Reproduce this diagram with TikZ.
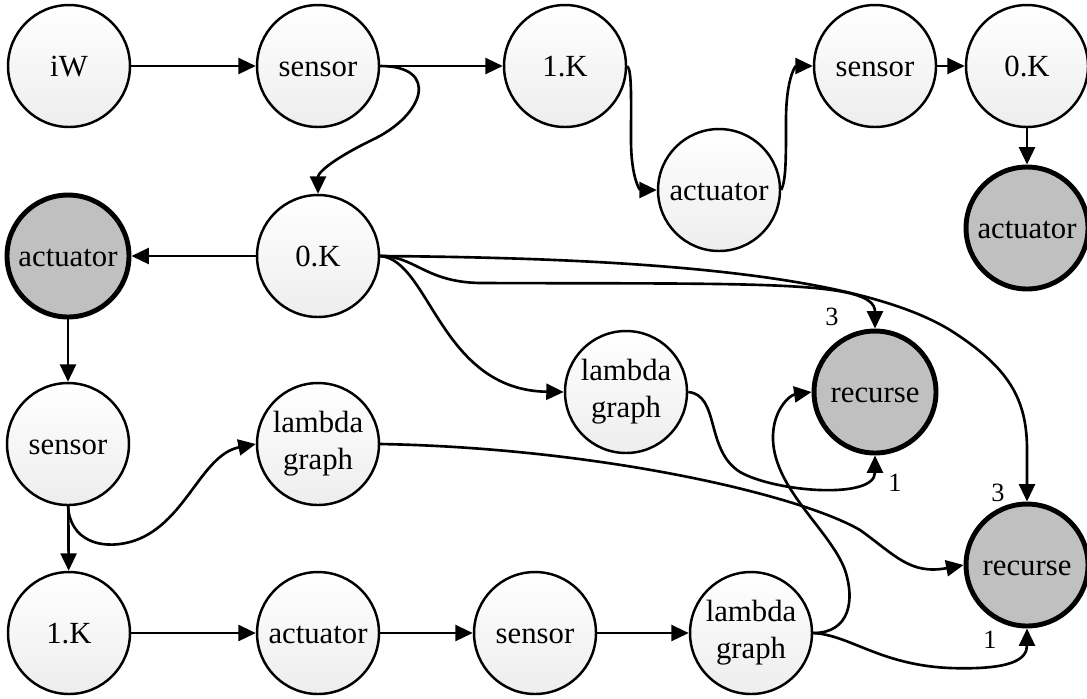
\documentclass[tikz,border=0pt]{standalone}
\usepackage{fontspec}
\setmainfont{Liberation Serif}
\usetikzlibrary{arrows.meta}
\definecolor{termgray}{RGB}{192,192,192}
\begin{document}
\begin{tikzpicture}[x=0.02cm,y=-0.02cm,
  state/.style={circle,minimum size=2.44cm,inner sep=0pt,draw=black,line width=1.4pt,
    top color=white,bottom color=gray!14,
    font=\fontsize{17.5}{21}\selectfont,text height=0.46cm,text depth=0.06cm},
  twoline/.style={state,align=center,text height=,text depth=},
  final/.style={state,top color=termgray,bottom color=termgray,line width=2.8pt},
  edge/.style={line width=1.5pt,-{Triangle[length=0.35cm,width=0.32cm]}},
  weight/.style={font=\fontsize{15}{17}\selectfont,inner sep=0pt}]
\useasboundingbox (0,0) rectangle (1087,698);

% first row
\node[state] (iw) at (69,66) {iW};
\node[state] (s1) at (318,66) {sensor};
\node[state] (k1) at (565,66) {1.K};
\node[state] (a1) at (719,190) {actuator};
\node[state] (s2) at (875,66) {sensor};
\node[state] (k2) at (1027,66) {0.K};
\node[final] (a2) at (1027,228) {actuator};

% second row
\node[final] (a3) at (68,256) {actuator};
\node[state] (k3) at (318,256) {0.K};

% middle rows
\node[state] (s3) at (68,444) {sensor};
\node[twoline] (l1) at (318,444) {lambda\\graph};
\node[twoline] (l2) at (626,392) {lambda\\graph};
\node[final] (r1) at (875,392) {recurse};
\node[final] (r2) at (1027,565) {recurse};

% bottom row
\node[state] (k4) at (69,633) {1.K};
\node[state] (a4) at (318,633) {actuator};
\node[state] (s4) at (535,633) {sensor};
\node[twoline] (l3) at (751,633) {lambda\\graph};

% straight connectors
\draw[edge] (iw) -- (s1);
\draw[edge] (s1) -- (k1);
\draw[edge] (s2) -- (k2);
\draw[edge] (k2) -- (a2);
\draw[edge] (k3) -- (a3);
\draw[edge] (a3) -- (s3);
\draw[edge] (s3) -- (k4);
\draw[edge] (k4) -- (a4);
\draw[edge] (a4) -- (s4);
\draw[edge] (s4) -- (l3);

% curved connectors
\draw[edge] (s1.east) .. controls (440,66) and (425,115) .. (372,140)
  .. controls (335,158) and (318,172) .. (k3.north);
\draw[edge] (k1.east) .. controls (632,70) and (631,100) .. (631,140)
  .. controls (631,178) and (640,190) .. (a1.west);
\draw[edge] (a1.east) .. controls (786,180) and (786,160) .. (786,120)
  .. controls (786,80) and (795,66) .. (s2.west);
\draw[edge] (s3.south) .. controls (70,540) and (100,550) .. (130,542)
  .. controls (185,527) and (200,455) .. (l1.west);

\draw[edge] (k3.east) .. controls (430,260) and (440,390) .. (l2.west);
\draw[edge] (k3.east) .. controls (415,256) and (425,282) .. (480,283)
  .. controls (760,284) and (875,280) .. (r1.north);
\draw[edge] (k3.east) .. controls (650,258) and (860,275) .. (950,330)
  .. controls (1010,368) and (1027,400) .. (1027,450) -- (r2.north);

\draw[edge] (l2.east) .. controls (720,395) and (705,450) .. (740,472)
  .. controls (775,492) and (875,500) .. (r1.south);
\draw[edge] (l1.east) .. controls (600,448) and (800,495) .. (860,530)
  .. controls (895,555) and (910,575) .. (r2.west);
\draw[edge] (l3.east) .. controls (850,633) and (855,600) .. (845,570)
  .. controls (830,530) and (775,490) .. (773,440)
  .. controls (772,410) and (790,395) .. (r1.west);
\draw[edge] (l3.east) .. controls (850,635) and (880,665) .. (950,668)
  .. controls (1010,670) and (1027,660) .. (r2.south);

% port weights
\node[weight] (w1) at (832,317) {3};
\node[weight] (w2) at (895,483) {1};
\node[weight] (w3) at (998,493) {3};
\node[weight] (w4) at (990,640) {1};
\end{tikzpicture}
\end{document}
